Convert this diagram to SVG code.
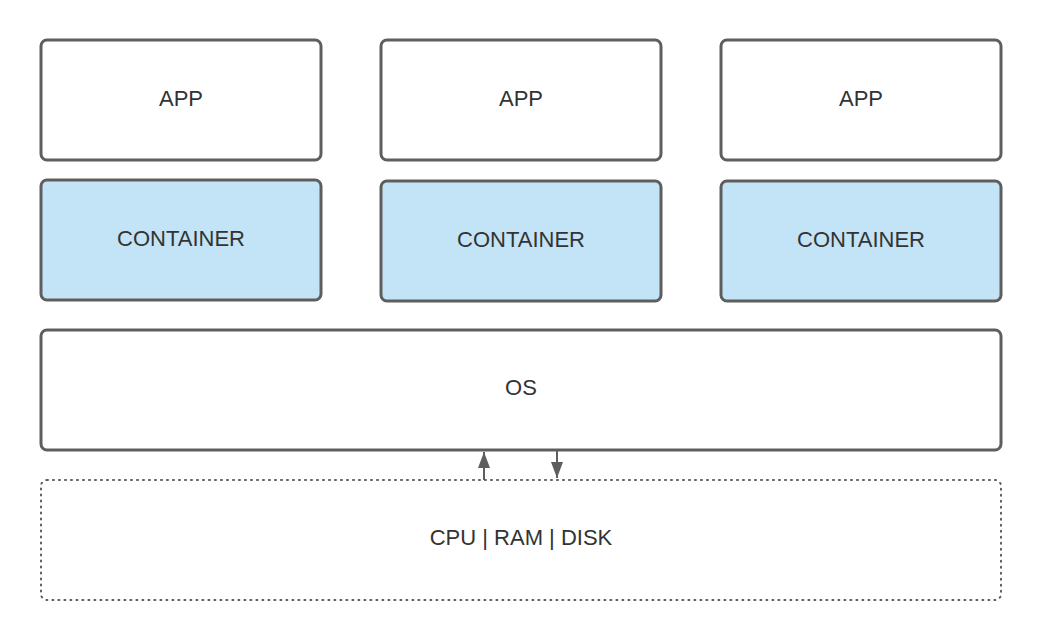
<svg xmlns="http://www.w3.org/2000/svg" width="1043" height="642" viewBox="0 0 1043 642">
<style>
.b{fill:#ffffff;stroke:#5e5e5e;stroke-width:3}
.c{fill:#c3e4f6;stroke:#5e5e5e;stroke-width:3}
.d{fill:#ffffff;stroke:#5e5e5e;stroke-width:2;stroke-dasharray:1 5;stroke-linecap:round}
.t{font-family:"Liberation Sans",Arial,sans-serif;font-size:22px;fill:#333333;text-anchor:middle;dominant-baseline:central}
.l{stroke:#5e5e5e;stroke-width:2;fill:none}
</style>
<defs>
<marker id="ah" viewBox="0 0 16 12" refX="16" refY="6" markerWidth="16" markerHeight="12" markerUnits="userSpaceOnUse" orient="auto"><path d="M0,0 L16,6 L0,12 z" fill="#5e5e5e"/></marker>
</defs>
<rect width="1043" height="642" fill="#ffffff"/>
<g id="app1"><rect class="b" x="41" y="40" width="280" height="120" rx="6"/><text class="t" x="181" y="98">APP</text></g>
<g id="app2"><rect class="b" x="381" y="40" width="280" height="120" rx="6"/><text class="t" x="521" y="98">APP</text></g>
<g id="app3"><rect class="b" x="721" y="40" width="280" height="120" rx="6"/><text class="t" x="861" y="98">APP</text></g>
<g id="container1"><rect class="c" x="41" y="180" width="280" height="120" rx="6"/><text class="t" x="181" y="238">CONTAINER</text></g>
<g id="container2"><rect class="c" x="381" y="181" width="280" height="120" rx="6"/><text class="t" x="521" y="239">CONTAINER</text></g>
<g id="container3"><rect class="c" x="721" y="181" width="280" height="120" rx="6"/><text class="t" x="861" y="239">CONTAINER</text></g>
<g id="os"><rect class="b" x="41" y="330" width="960" height="120" rx="6"/><text class="t" x="521" y="387">OS</text></g>
<g id="hw"><rect class="d" x="41" y="480" width="960" height="120" rx="6"/><text class="t" x="521" y="537">CPU | RAM | DISK</text></g>
<g id="connectors">
<line class="l" x1="484" y1="480" x2="484" y2="452" marker-end="url(#ah)"/>
<line class="l" x1="557" y1="451" x2="557" y2="478" marker-end="url(#ah)"/>
</g>
</svg>
